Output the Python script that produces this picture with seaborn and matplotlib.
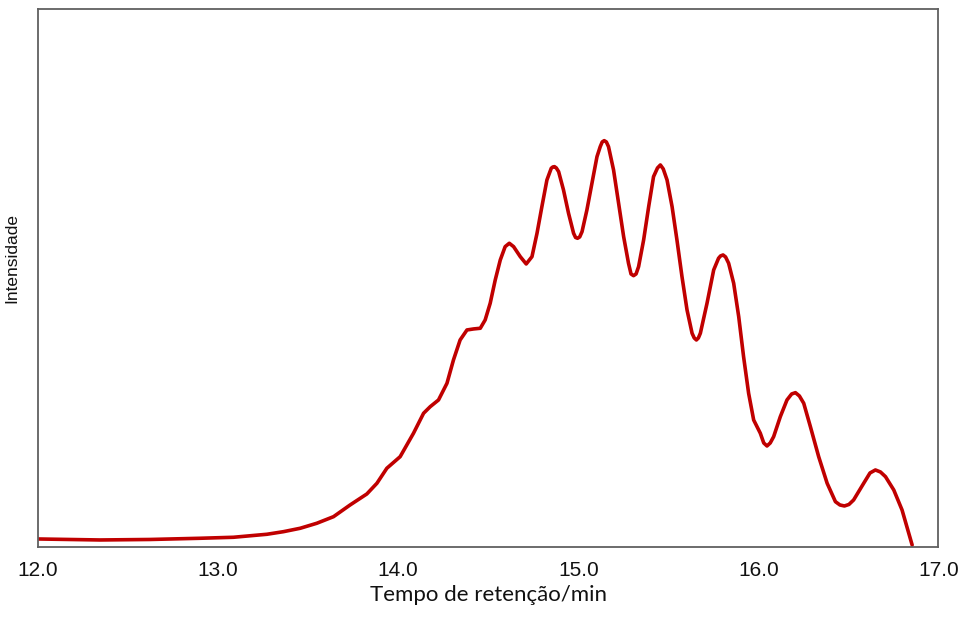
import numpy as np
import pandas as pd
import matplotlib
matplotlib.use("Agg")
import matplotlib.pyplot as plt
import seaborn as sns

# retention time (min) and detector signal (arbitrary units)
tempo = [12.000, 12.344, 12.622, 12.900, 13.085, 13.271, 13.363, 13.456, 13.548, 13.641,
         13.733, 13.826, 13.882, 13.937, 14.011, 14.085, 14.141, 14.178, 14.224, 14.271,
         14.307, 14.344, 14.382, 14.418, 14.456, 14.483, 14.511, 14.539, 14.567, 14.594,
         14.617, 14.641, 14.678, 14.711, 14.743, 14.771, 14.798, 14.826, 14.850, 14.859,
         14.868, 14.878, 14.891, 14.918, 14.946, 14.974, 14.985, 14.996, 15.008, 15.021,
         15.048, 15.076, 15.104, 15.122, 15.133, 15.144, 15.156, 15.168, 15.196, 15.224,
         15.252, 15.279, 15.293, 15.307, 15.321, 15.335, 15.363, 15.391, 15.418, 15.440,
         15.456, 15.472, 15.493, 15.521, 15.548, 15.576, 15.604, 15.632, 15.644, 15.656,
         15.667, 15.678, 15.715, 15.752, 15.779, 15.790, 15.804, 15.818, 15.835, 15.863,
         15.891, 15.918, 15.946, 15.974, 16.011, 16.030, 16.048, 16.066, 16.085, 16.122,
         16.159, 16.185, 16.206, 16.228, 16.252, 16.289, 16.335, 16.382, 16.428, 16.453,
         16.478, 16.503, 16.529, 16.585, 16.620, 16.650, 16.678, 16.706, 16.752, 16.798,
         16.854]
intensidade = [8, 7, 7.5, 8.7, 9.7, 12.7, 15.3, 18.7, 23.7, 30.3,
               42, 53, 63.7, 78.7, 90.3, 113.7, 133.7, 140.3, 147, 163.7,
               187, 207, 217, 218, 218.7, 227, 243.7, 267, 287, 300.3,
               303.7, 300.3, 290.3, 283, 290.3, 313.7, 340.3, 367, 378.7, 380,
               380.3, 379, 375.3, 357, 333.7, 313.7, 309.5, 308.7, 310, 315.3,
               337, 363.7, 390.3, 400.3, 405, 406.3, 405, 400.3, 377, 343.7,
               310.3, 283.7, 273, 271.3, 273, 280.3, 307, 340.3, 370.3, 379,
               382, 378, 367, 340.3, 307, 270.3, 237, 213.7, 209, 207,
               209, 213.7, 243.7, 277, 288.7, 291, 292, 290, 283.7, 263.7,
               230.3, 190.3, 153.7, 127, 113.7, 104, 101, 104, 110.3, 130.3,
               147, 153, 154.3, 151, 143.7, 120.3, 90.3, 63.7, 45.3, 42,
               41, 42.5, 47, 63.7, 74, 77, 75, 70.3, 57, 37,
               2]

df = pd.DataFrame({"tempo": tempo, "intensidade": intensidade})

sns.set_style("white")
plt.rcParams["font.family"] = ["Liberation Sans", "DejaVu Sans"]

fig = plt.figure(figsize=(9.62, 6.17), dpi=100)
ax = fig.add_axes([0.0395, 0.1135, 0.936, 0.872])

sns.lineplot(data=df, x="tempo", y="intensidade", ax=ax, color="#C00000",
             linewidth=2.6, sort=False)
for ln in ax.lines:
    ln.set_solid_joinstyle("round")
    ln.set_solid_capstyle("round")

ax.set_xlim(12.0, 17.0)
ax.set_ylim(0, 538)
ax.set_xticks([12, 13, 14, 15, 16, 17])
ax.set_xticklabels(["12.0", "13.0", "14.0", "15.0", "16.0", "17.0"])
ax.set_yticks([])
ax.tick_params(axis="x", direction="in", length=5, width=1, color="#8c8c8c",
               labelsize=15, pad=10, labelcolor="#111111")

for sp in ax.spines.values():
    sp.set_visible(True)
    sp.set_color("#606060")
    sp.set_linewidth(1.3)

ax.set_xlabel("Tempo de retenção/min", fontsize=16, family=["Lato", "DejaVu Sans"],
              labelpad=4, color="#111111")
ax.set_ylabel("Intensidade", fontsize=12.5, labelpad=8, color="#111111")
ax.yaxis.set_label_coords(-0.021, 0.537)

fig.savefig("out.png", dpi=100)
